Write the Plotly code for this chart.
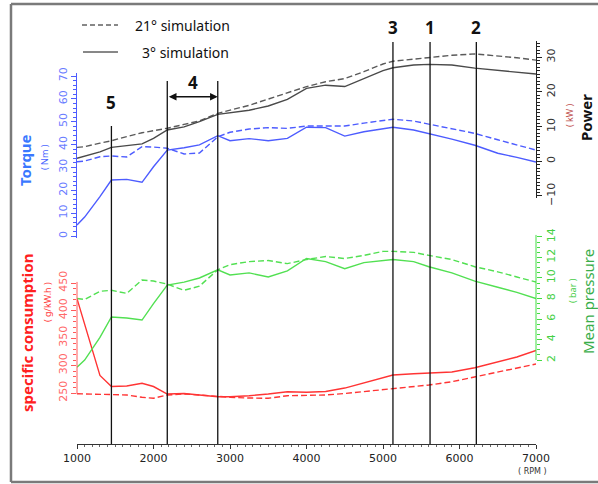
import plotly.graph_objects as go

# ---------------- data ----------------
rpm = [1000, 1100, 1300, 1450, 1650, 1850, 2000, 2180, 2400, 2600, 2840, 3000, 3250, 3500,
       3750, 4000, 4250, 4500, 4750, 5000, 5130, 5400, 5600, 5900, 6200, 6500, 6750, 7000]

torque_3 = [4.8, 8.3, 17.2, 24.5, 24.8, 23.5, 30.3, 37.6, 38.6, 39.9, 43.9, 41.7, 42.6, 41.7,
            42.7, 47.6, 47.4, 43.7, 45.6, 47.1, 47.6, 46.4, 44.9, 42.4, 39.7, 36.2, 34.4, 32.4]
torque_21 = [32.5, 32.8, 34.7, 35.0, 34.6, 39.1, 38.9, 38.4, 35.9, 36.3, 43.4, 45.4, 46.8, 47.4,
             47.1, 48.1, 48.1, 48.1, 49.4, 50.7, 51.1, 50.3, 49.0, 46.8, 44.9, 42.1, 39.8, 37.6]

power_3 = [0.85, 1.4, 2.7, 4.0, 4.5, 5.0, 6.6, 9.0, 9.9, 11.4, 13.5, 13.9, 14.7, 15.9,
           17.8, 21.0, 21.9, 21.5, 23.9, 26.1, 26.9, 27.7, 27.9, 27.7, 26.8, 26.1, 25.6, 25.1]
power_21 = [4.0, 4.2, 5.2, 5.9, 7.1, 8.2, 8.8, 9.5, 10.6, 11.6, 13.8, 14.7, 16.1, 17.9,
            19.6, 21.5, 22.9, 23.8, 25.8, 28.0, 28.8, 29.4, 29.9, 30.5, 30.9, 30.4, 29.8, 29.1]

pressure_3 = [1.3, 2.0, 4.2, 6.2, 6.1, 5.9, 7.5, 9.3, 9.6, 10.0, 10.8, 10.3, 10.5, 10.1,
              10.7, 11.9, 11.6, 10.9, 11.5, 11.7, 11.8, 11.6, 11.1, 10.5, 9.7, 9.1, 8.6, 8.0]
pressure_21 = [8.0, 7.9, 8.7, 8.8, 8.5, 9.8, 9.7, 9.4, 8.8, 9.2, 10.8, 11.3, 11.6, 11.7,
               11.4, 11.8, 12.1, 11.9, 12.2, 12.6, 12.6, 12.5, 12.2, 11.8, 11.1, 10.6, 10.1, 9.6]

consumption_3 = [421.5, 373.6, 282.0, 261.8, 262.7, 267.6, 261.8, 248.2, 249.0, 246.4, 243.3, 243.3,
                 245.0, 248.2, 252.4, 251.3, 252.7, 259.0, 268.0, 277.3, 282.7, 285.0, 285.8,
                 288.2, 296.0, 307.0, 315.5, 327.3]
consumption_21 = [248.7, 248.2, 247.3, 246.4, 246.4, 242.2, 240.4, 246.4, 248.2, 246.4, 243.3, 242.2,
                  240.9, 240.4, 245.1, 245.8, 246.4, 249.1, 252.4, 256.4, 258.5, 261.8, 264.5,
                  270.5, 279.1, 288.2, 294.5, 302.7]

marker_rpm = [1450, 2180, 2840, 5130, 5615, 6220]
marker_labels = ["5", "", "", "3", "1", "2"]

x_ticks = [1000, 2000, 3000, 4000, 5000, 6000, 7000]
consumption_ticks = [250, 300, 350, 400, 450]
pressure_ticks = [2, 4, 6, 8, 10, 12, 14]

legend_labels = ["21° simulation", "3° simulation"]

# ---------------- styling ----------------
BLUE = "#4d5cff"
RED = "#ff3434"
GREEN = "#52e052"
GRAY_S = "#4a4a4a"
GRAY_D = "#5a5a5a"
DASH = "6px,3px"
LW = 1.4
TICKFONT = "DejaVu Sans"
TS = 11

fig = go.Figure()

def add(y, axis, color, dashed):
    fig.add_trace(go.Scatter(
        x=rpm, y=y, yaxis=axis, mode="lines",
        line=dict(color=color, width=LW, dash=DASH if dashed else "solid"),
        hoverinfo="skip"))

add(torque_21, "y", BLUE, True)
add(torque_3, "y", BLUE, False)
add(power_21, "y2", GRAY_D, True)
add(power_3, "y2", GRAY_S, False)
add(consumption_21, "y3", RED, True)
add(consumption_3, "y3", RED, False)
add(pressure_21, "y4", GREEN, True)
add(pressure_3, "y4", GREEN, False)

def yax(**kw):
    base = dict(anchor="x", showgrid=False, zeroline=False, ticks="outside",
                ticklen=5, tickwidth=1, tickangle=-90, fixedrange=True)
    base.update(kw)
    return base

fig.update_layout(
    width=598, height=484, autosize=False,
    margin=dict(l=77, r=62, t=20, b=40, pad=0),
    paper_bgcolor="white", plot_bgcolor="rgba(0,0,0,0)",
    showlegend=False,
    xaxis=dict(range=[1000, 7000], domain=[0, 1], anchor="free", position=0,
               showline=True, linecolor="#333", linewidth=1, showgrid=False, zeroline=False,
               tickmode="array", tickvals=x_ticks, ticks="outside", ticklen=4, tickcolor="#333",
               minor=dict(dtick=100, tick0=1000, ticks="outside", ticklen=2, tickcolor="#666"),
               tickfont=dict(family=TICKFONT, size=TS, color="#222")),
    yaxis=yax(domain=[0.4851, 0.876], range=[-1, 71.5], side="left",
              showline=True, linecolor=BLUE, tickcolor=BLUE, dtick=10, tick0=0,
              minor=dict(dtick=2, tick0=0, ticks="outside", ticklen=3, tickcolor=BLUE),
              tickfont=dict(family=TICKFONT, size=TS, color="#6a7cff")),
    yaxis2=yax(domain=[0.58, 0.9495], range=[-10.6, 34.5], side="right",
               showline=True, linecolor="#222", tickcolor="#222", dtick=10, tick0=0,
               minor=dict(dtick=1, tick0=0, ticks="outside", ticklen=3, tickcolor="#222"),
               tickfont=dict(family=TICKFONT, size=TS, color="#333")),
    yaxis3=yax(domain=[0.1021, 0.3862], range=[236, 455], side="left",
               showline=False, tickcolor="#ff5a5a", tickmode="array", tickvals=consumption_ticks,
               minor=dict(tickmode="array", tickvals=list(range(250, 451, 10)),
                          ticks="outside", ticklen=3, tickcolor="#ff5a5a"),
               tickfont=dict(family=TICKFONT, size=TS, color="#ff6a6a")),
    yaxis4=yax(domain=[0.1739, 0.4955], range=[1.0, 14.3], side="right",
               showline=False, tickcolor="#44dd44", tickmode="array", tickvals=pressure_ticks,
               minor=dict(tickmode="array", tickvals=[2 + 0.5 * i for i in range(25)],
                          ticks="outside", ticklen=3, tickcolor="#44dd44"),
               tickfont=dict(family=TICKFONT, size=TS, color="#44d044")),
)

shapes = []
# axis spines drawn only over the labelled span
shapes.append(dict(type="line", xref="paper", x0=0, x1=0, yref="y3", y0=248, y1=452,
                   line=dict(color="#ff5a5a", width=1)))
shapes.append(dict(type="line", xref="paper", x0=1, x1=1, yref="y4", y0=2, y1=14.2,
                   line=dict(color="#44dd44", width=1)))

# vertical marker lines
marker_tops = [0.75, 0.856, 0.856, 0.948, 0.948, 0.948]
for r, top in zip(marker_rpm, marker_tops):
    shapes.append(dict(type="line", xref="x", x0=r, x1=r, yref="paper", y0=0, y1=top,
                       line=dict(color="#111", width=1.3)))

# legend samples
shapes.append(dict(type="line", xref="paper", yref="paper", x0=0.0109, x1=0.0893,
                   y0=0.9882, y1=0.9882, line=dict(color="#111", width=1, dash="5px,3px")))
shapes.append(dict(type="line", xref="paper", yref="paper", x0=0.0131, x1=0.0893,
                   y0=0.9245, y1=0.9245, line=dict(color="#111", width=1)))

# outer frame
fx0, fx1, fy0, fy1 = -0.1438, 1.14, -0.0896, 1.0377
shapes.append(dict(type="line", xref="paper", yref="paper", x0=fx0, x1=fx0, y0=fy0, y1=fy1,
                   line=dict(color="#7a7a7a", width=2.5)))
shapes.append(dict(type="line", xref="paper", yref="paper", x0=fx0, x1=fx1, y0=fy1, y1=fy1,
                   line=dict(color="#7a7a7a", width=2.5)))
shapes.append(dict(type="line", xref="paper", yref="paper", x0=fx0, x1=fx1, y0=fy0, y1=fy0,
                   line=dict(color="#7a7a7a", width=2.5)))
fig.update_layout(shapes=shapes)

ann = []
def text(x, y, s, size, color, angle=0, xanchor="center", family="Noto Sans", xref="paper"):
    ann.append(dict(x=x, y=y, xref=xref, yref="paper", text=s, showarrow=False,
                    textangle=angle, xanchor=xanchor, yanchor="middle",
                    font=dict(family=family, size=size, color=color)))

# marker labels
label_y = [0.805, None, None, 0.9823, 0.9823, 0.9823]
for r, lab, ly in zip(marker_rpm, marker_labels, label_y):
    if lab:
        text(r, ly, "<b>%s</b>" % lab, 17, "#111", xref="x")
text((marker_rpm[1] + marker_rpm[2]) / 2, 0.8526, "<b>4</b>", 17, "#111", xref="x")

# double-headed arrow for range 4
px_per_rpm = (598 - 77 - 62) / (7000 - 1000)
ann.append(dict(x=marker_rpm[2], y=0.819, xref="x", yref="paper", text="",
                showarrow=True, ax=-(marker_rpm[2] - marker_rpm[1]) * px_per_rpm, ay=0,
                axref="pixel", ayref="pixel", arrowside="end+start", arrowhead=2,
                startarrowhead=2, arrowsize=1.1, startarrowsize=1.1, arrowwidth=1.4,
                arrowcolor="#111", standoff=0, startstandoff=0))

# legend texts
text(0.122, 0.9882, legend_labels[0], 14, "#111", xanchor="left")
text(0.1373, 0.9245, legend_labels[1], 14, "#111", xanchor="left")

# axis titles
text(-0.1133, 0.6698, "<b>Torque</b>", 15, "#3a78ff", angle=-90)
text(-0.0697, 0.6769, "( Nm )", 9, "#4a66ff", angle=-90)
text(-0.1089, 0.2618, "<b>specific consumption</b>", 15, "#ff2020", angle=-90)
text(-0.0654, 0.3349, "( g/kW.h )", 9, "#ff3a3a", angle=-90)
text(1.1089, 0.7712, "<b>Power</b>", 15, "#111", angle=-90)
text(1.0719, 0.7759, "( kW )", 9, "#c0504d", angle=-90)
text(1.1133, 0.3349, "Mean pressure", 15, "#3aae4a", angle=-90)
text(1.0784, 0.3632, "( bar )", 9, "#44cc44", angle=-90)
text(0.9913, -0.066, "( RPM )", 8, "#333", family=TICKFONT)

fig.update_layout(annotations=ann)

fig.write_html("out.html")
